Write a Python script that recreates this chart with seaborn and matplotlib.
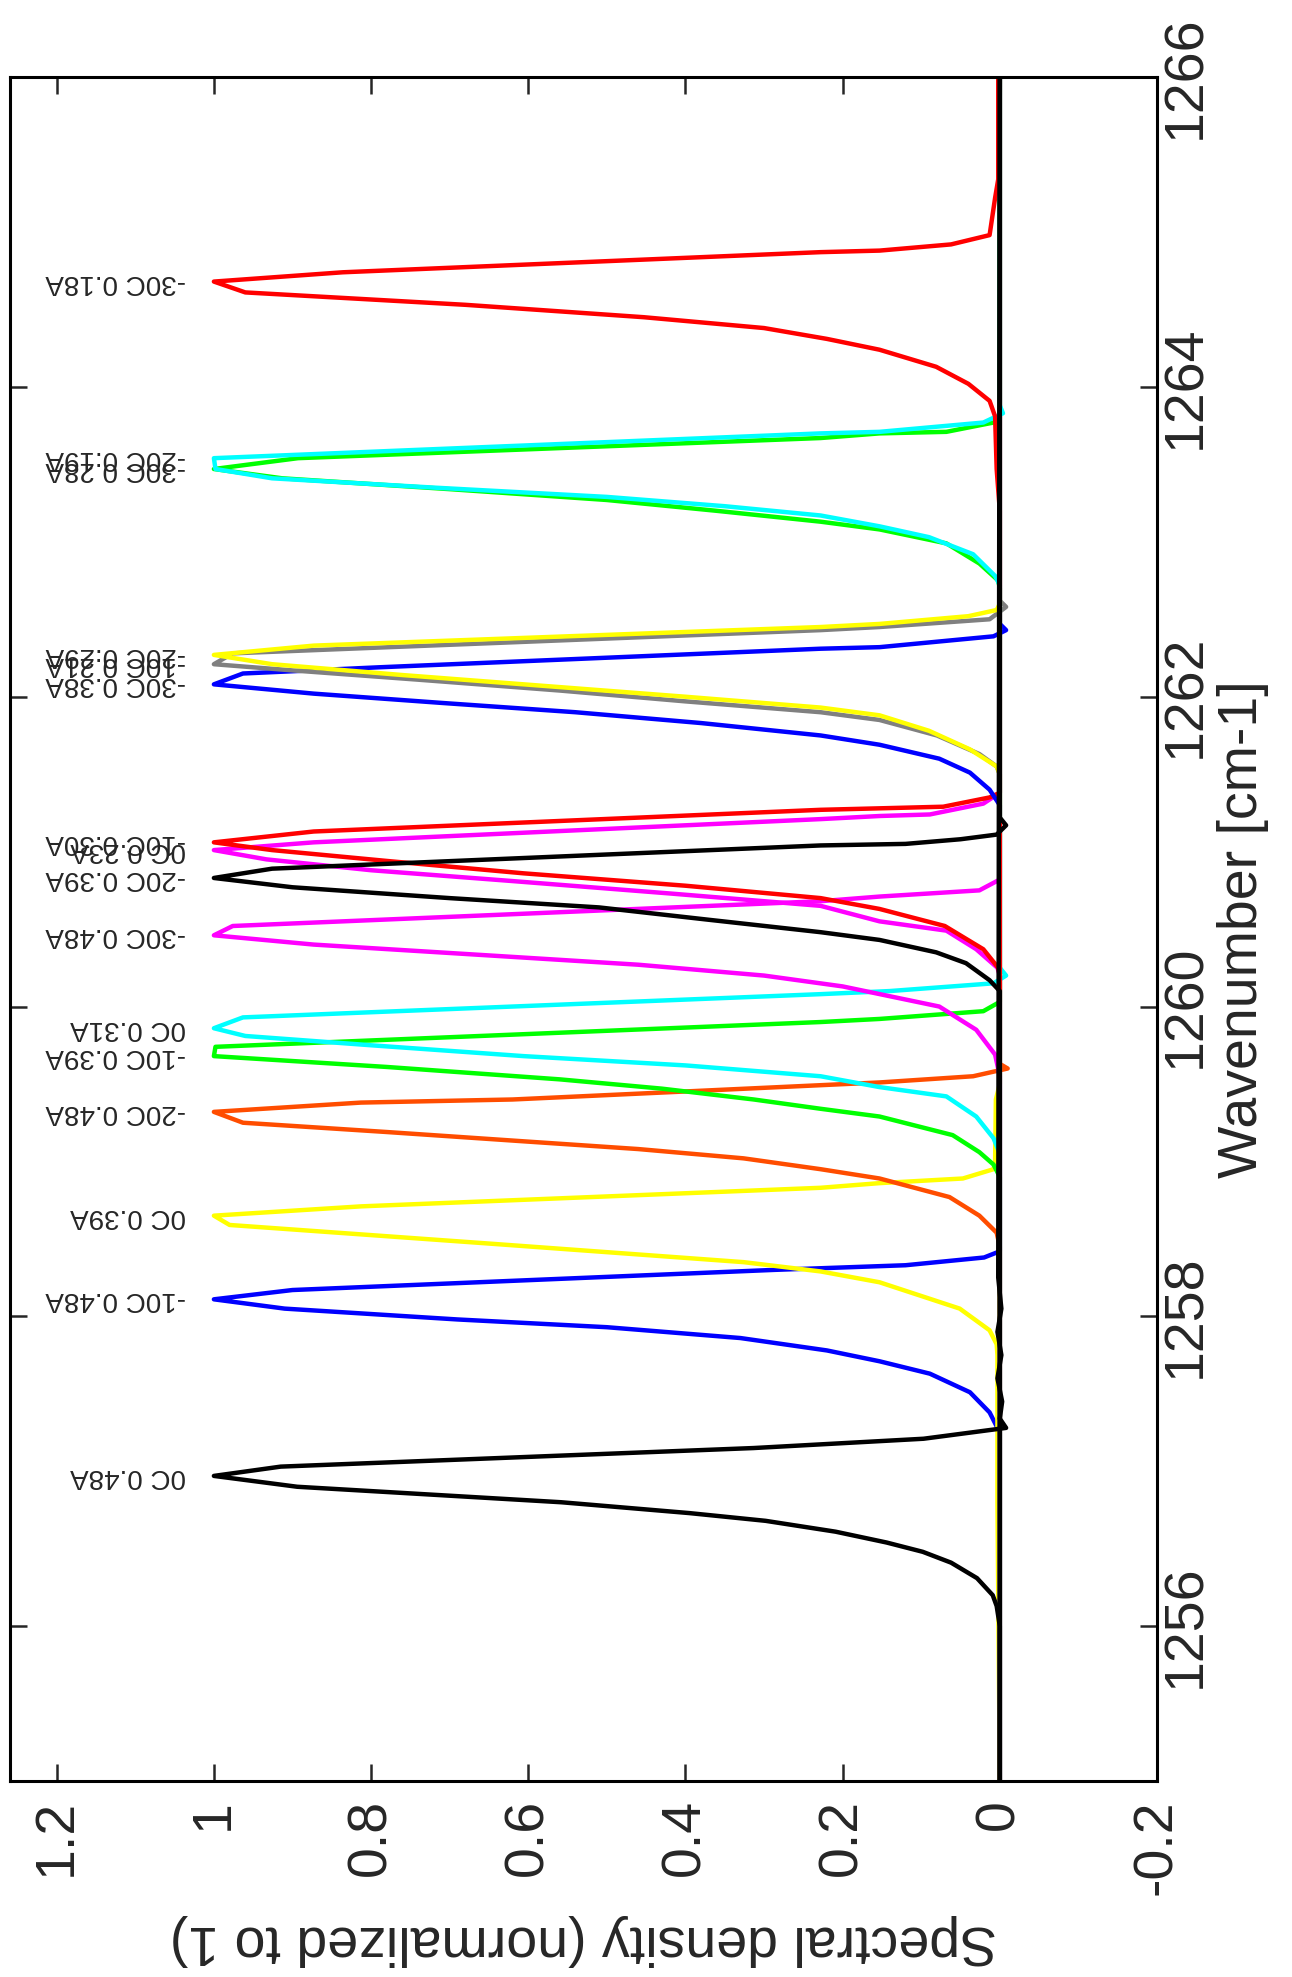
import matplotlib
matplotlib.use('Agg')
import matplotlib.pyplot as plt
import seaborn as sns
import numpy as np

# Normalised spectral density peaks
# (wavenumber in cm-1, normalised density)
w_0c_048 = [1255.0, 1256.0, 1256.13, 1256.20, 1256.31, 1256.41, 1256.48, 1256.54, 1256.61, 1256.68, 1256.73,
            1256.80, 1256.90, 1256.97, 1257.03, 1257.15, 1257.21, 1257.28, 1257.34, 1257.45, 1257.60, 1257.75,
            1257.90, 1258.05, 1258.25, 1266.0]
v_0c_048 = [0.0, 0.0, 0.004, 0.009, 0.029, 0.062, 0.098, 0.144, 0.209, 0.298, 0.395,
            0.558, 0.894, 1.0, 0.915, 0.313, 0.097, -0.008, 0.0, -0.003, 0.003, -0.002,
            0.003, -0.002, 0.002, 0.0]

w_m10c_048 = [1255.0, 1257.25, 1257.38, 1257.51, 1257.63, 1257.71, 1257.78, 1257.86, 1257.93, 1257.98, 1258.05,
              1258.11, 1258.17, 1258.30, 1258.33, 1258.38, 1258.42, 1266.0]
v_m10c_048 = [0.0, 0.0, 0.013, 0.038, 0.089, 0.153, 0.22, 0.33, 0.50, 0.69, 0.91,
              1.0, 0.90, 0.287, 0.12, 0.02, 0.0, 0.0]

w_0c_039 = [1255.0, 1256.8, 1257.75, 1257.82, 1257.91, 1258.05, 1258.22, 1258.29, 1258.35, 1258.47, 1258.59,
            1258.65, 1258.71, 1258.83, 1258.86, 1258.89, 1258.95, 1259.0, 1259.4, 1259.5, 1266.0]
v_0c_039 = [0.0, 0.003, 0.003, 0.004, 0.013, 0.051, 0.153, 0.228, 0.326, 0.65, 0.98,
            1.0, 0.813, 0.228, 0.153, 0.047, 0.008, 0.006, 0.005, 0.0, 0.0]

w_m20c_048 = [1255.0, 1258.45, 1258.54, 1258.65, 1258.77, 1258.89, 1258.95, 1259.02, 1259.08, 1259.13, 1259.19,
              1259.25, 1259.32, 1259.38, 1259.40, 1259.51, 1259.55, 1259.60, 1259.63, 1266.0]
v_m20c_048 = [0.0, 0.0, 0.004, 0.026, 0.064, 0.153, 0.228, 0.326, 0.46, 0.606, 0.78,
              0.963, 1.0, 0.813, 0.62, 0.153, 0.034, -0.01, 0.0, 0.0]

w_0c_031 = [1255.0, 1259.05, 1259.15, 1259.29, 1259.42, 1259.48, 1259.55, 1259.62, 1259.68, 1259.75, 1259.81,
            1259.86, 1259.93, 1260.08, 1260.10, 1260.15, 1260.20, 1260.25, 1266.0]
v_0c_031 = [0.0, 0.0, 0.008, 0.03, 0.068, 0.153, 0.228, 0.40, 0.606, 0.80, 0.96,
            1.0, 0.963, 0.228, 0.14, 0.008, -0.008, 0.0, 0.0]

w_m10c_039 = [1255.0, 1258.9, 1258.98, 1259.06, 1259.17, 1259.29, 1259.34, 1259.40, 1259.47, 1259.53, 1259.61,
              1259.68, 1259.74, 1259.90, 1259.92, 1259.97, 1260.03, 1266.0]
v_m10c_039 = [0.0, 0.0, 0.008, 0.026, 0.06, 0.153, 0.228, 0.313, 0.43, 0.56, 0.78,
              1.0, 0.998, 0.228, 0.153, 0.021, 0.0, 0.0]

w_m30c_048 = [1255.0, 1259.55, 1259.69, 1259.85, 1260.0, 1260.13, 1260.20, 1260.27, 1260.33, 1260.40, 1260.46,
              1260.52, 1260.68, 1260.71, 1260.75, 1260.82, 1266.0]
v_m30c_048 = [0.0, 0.0, 0.006, 0.03, 0.077, 0.20, 0.30, 0.46, 0.65, 0.873, 1.0,
              0.976, 0.228, 0.153, 0.026, 0.0, 0.0]

w_m20c_039 = [1255.0, 1260.1, 1260.17, 1260.28, 1260.35, 1260.43, 1260.48, 1260.56, 1260.64, 1260.70, 1260.77,
              1260.83, 1260.89, 1261.04, 1261.05, 1261.08, 1261.11, 1261.17, 1261.22, 1266.0]
v_m20c_039 = [0.0, 0.0, 0.013, 0.043, 0.081, 0.153, 0.228, 0.37, 0.51, 0.70, 0.90,
              1.0, 0.926, 0.228, 0.12, 0.05, 0.004, -0.008, 0.0, 0.0]

w_0c_023 = [1255.0, 1260.2, 1260.25, 1260.37, 1260.49, 1260.55, 1260.65, 1260.73, 1260.81, 1260.88, 1260.95,
            1261.01, 1261.06, 1261.21, 1261.23, 1261.24, 1261.31, 1261.38, 1266.0]
v_0c_023 = [0.0, 0.0, 0.003, 0.03, 0.068, 0.153, 0.228, 0.42, 0.62, 0.80, 0.933,
            1.0, 0.873, 0.228, 0.153, 0.089, 0.021, 0.0, 0.0]

w_m10c_030 = [1255.0, 1260.2, 1260.25, 1260.37, 1260.52, 1260.63, 1260.70, 1260.78, 1260.86, 1260.94, 1261.01,
              1261.06, 1261.13, 1261.27, 1261.29, 1261.35, 1261.38, 1266.0]
v_m10c_030 = [0.0, 0.0, 0.002, 0.021, 0.07, 0.153, 0.228, 0.40, 0.606, 0.78, 0.926,
              1.0, 0.873, 0.228, 0.072, 0.013, 0.0, 0.0]

w_m30c_038 = [1255.0, 1261.3, 1261.40, 1261.51, 1261.60, 1261.69, 1261.75, 1261.83, 1261.90, 1261.96, 1262.02,
              1262.08, 1262.15, 1262.19, 1262.31, 1262.32, 1262.39, 1262.43, 1262.47, 1266.0]
v_m30c_038 = [0.0, 0.0, 0.013, 0.038, 0.077, 0.153, 0.228, 0.38, 0.54, 0.71, 0.873,
              1.0, 0.963, 0.79, 0.228, 0.153, 0.008, -0.008, 0.0, 0.0]

w_m10c_021 = [1255.0, 1261.5, 1261.55, 1261.63, 1261.75, 1261.85, 1261.90, 1261.97, 1262.04, 1262.11, 1262.17,
              1262.21, 1262.28, 1262.43, 1262.45, 1262.50, 1262.58, 1262.62, 1266.0]
v_m10c_021 = [0.0, 0.0, 0.004, 0.026, 0.08, 0.153, 0.228, 0.40, 0.56, 0.74, 0.90,
              1.0, 0.976, 0.228, 0.153, 0.013, -0.008, 0.0, 0.0]

w_m20c_029 = [1255.0, 1261.5, 1261.55, 1261.66, 1261.78, 1261.88, 1261.93, 1262.0, 1262.07, 1262.14, 1262.21,
              1262.27, 1262.33, 1262.45, 1262.47, 1262.52, 1262.56, 1262.6, 1266.0]
v_m20c_029 = [0.0, 0.0, 0.004, 0.038, 0.09, 0.153, 0.228, 0.40, 0.58, 0.76, 0.926,
              1.0, 0.873, 0.228, 0.153, 0.04, 0.004, 0.0, 0.0]

w_m30c_028 = [1255.0, 1262.7, 1262.75, 1262.86, 1262.99, 1263.08, 1263.13, 1263.20, 1263.27, 1263.34, 1263.41,
              1263.47, 1263.54, 1263.67, 1263.70, 1263.71, 1263.77, 1263.80, 1266.0]
v_m30c_028 = [0.0, 0.0, 0.002, 0.026, 0.068, 0.153, 0.228, 0.36, 0.50, 0.70, 0.913,
              1.0, 0.893, 0.228, 0.153, 0.068, 0.008, 0.0, 0.0]

w_m20c_019 = [1255.0, 1262.72, 1262.78, 1262.92, 1263.03, 1263.10, 1263.17, 1263.23, 1263.29, 1263.35, 1263.41,
              1263.47, 1263.54, 1263.70, 1263.71, 1263.77, 1263.83, 1263.88, 1266.0]
v_m20c_019 = [0.0, 0.0, 0.006, 0.034, 0.09, 0.153, 0.228, 0.35, 0.50, 0.72, 0.926,
              0.998, 1.0, 0.228, 0.153, 0.021, -0.004, 0.0, 0.0]

w_m30c_018 = [1255.0, 1263.2, 1263.47, 1263.81, 1263.91, 1264.02, 1264.13, 1264.24, 1264.31, 1264.38, 1264.45,
              1264.53, 1264.61, 1264.68, 1264.74, 1264.87, 1264.88, 1264.92, 1264.98, 1265.22, 1265.34, 1266.0]
v_m30c_018 = [0.0, 0.0, 0.004, 0.006, 0.013, 0.04, 0.081, 0.153, 0.22, 0.30, 0.453,
              0.68, 0.96, 1.0, 0.836, 0.228, 0.153, 0.062, 0.013, 0.006, 0.002, 0.002]

# label, line colour, data (black ones last so the zero line sits on top)
curves = [
    ('-10C 0.48A', '#0000FF', w_m10c_048, v_m10c_048),
    ('0C 0.39A', '#FFFF00', w_0c_039, v_0c_039),
    ('-20C 0.48A', '#FF4D00', w_m20c_048, v_m20c_048),
    ('-10C 0.39A', '#00FF00', w_m10c_039, v_m10c_039),
    ('0C 0.31A', '#00FFFF', w_0c_031, v_0c_031),
    ('-30C 0.48A', '#FF00FF', w_m30c_048, v_m30c_048),
    ('0C 0.23A', '#FF00FF', w_0c_023, v_0c_023),
    ('-10C 0.30A', '#FF0000', w_m10c_030, v_m10c_030),
    ('-30C 0.38A', '#0000FF', w_m30c_038, v_m30c_038),
    ('-10C 0.21A', '#808080', w_m10c_021, v_m10c_021),
    ('-20C 0.29A', '#FFFF00', w_m20c_029, v_m20c_029),
    ('-30C 0.28A', '#00FF00', w_m30c_028, v_m30c_028),
    ('-20C 0.19A', '#00FFFF', w_m20c_019, v_m20c_019),
    ('-30C 0.18A', '#FF0000', w_m30c_018, v_m30c_018),
    ('-20C 0.39A', '#000000', w_m20c_039, v_m20c_039),
    ('0C 0.48A', '#000000', w_0c_048, v_0c_048),
]

sns.set_theme(style='white')
plt.rcParams['font.family'] = ['Liberation Sans', 'DejaVu Sans']
txt_color = '#262626'

fig = plt.figure(figsize=(12.92, 19.77), dpi=100)
ax = fig.add_axes([0.0074, 0.0991, 0.8881, 0.8619])

# the chart is drawn turned a quarter turn: density runs right-to-left, wavenumber upward
for label, color, w, v in curves:
    sns.lineplot(x=v, y=w, sort=False, estimator=None, orient='y', color=color, lw=3.2, ax=ax)
    i = int(np.argmax(v))
    ax.text(v[i] + 0.035, w[i], label, rotation=180, rotation_mode='anchor', ha='left', va='center',
            fontsize=20, color=txt_color)

ax.set_xlim(1.26, -0.2)
ax.set_ylim(1255, 1266)

xt = [-0.2, 0, 0.2, 0.4, 0.6, 0.8, 1, 1.2]
ax.set_xticks(xt)
ax.set_xticklabels(['-0.2', '0', '0.2', '0.4', '0.6', '0.8', '1', '1.2'])
yt = [1256, 1258, 1260, 1262, 1264, 1266]
ax.set_yticks(yt)
ax.set_yticklabels([str(t) for t in yt])

ax.tick_params(axis='x', direction='in', length=12, width=1.8, top=True, bottom=True,
               labelsize=40, labelcolor=txt_color, pad=13, labelrotation=90)
ax.tick_params(axis='y', direction='in', length=12, width=1.8, left=True, right=True,
               labelleft=False, labelright=True, labelsize=40, labelcolor=txt_color, pad=2)
for lbl in ax.get_yticklabels():
    lbl.set_rotation(90)
    lbl.set_rotation_mode('default')
    lbl.set_va('center')
    lbl.set_ha('left')

for sp in ax.spines.values():
    sp.set_linewidth(2.2)
    sp.set_color('black')

ax.set_xlabel('Spectral density (normalized to 1)', fontsize=40, color=txt_color, rotation=180)
ax.xaxis.set_label_coords(0.5, -0.078)
ax.xaxis.label.set_rotation_mode('default')
ax.xaxis.label.set_va('top')
ax.xaxis.label.set_ha('center')

ax.yaxis.set_label_position('right')
ax.set_ylabel('Wavenumber [cm-1]', fontsize=40, color=txt_color, rotation=90)
ax.yaxis.set_label_coords(1.052, 0.5)
ax.yaxis.label.set_rotation_mode('default')
ax.yaxis.label.set_ha('left')
ax.yaxis.label.set_va('center')

plt.savefig('out.png', dpi=100)
